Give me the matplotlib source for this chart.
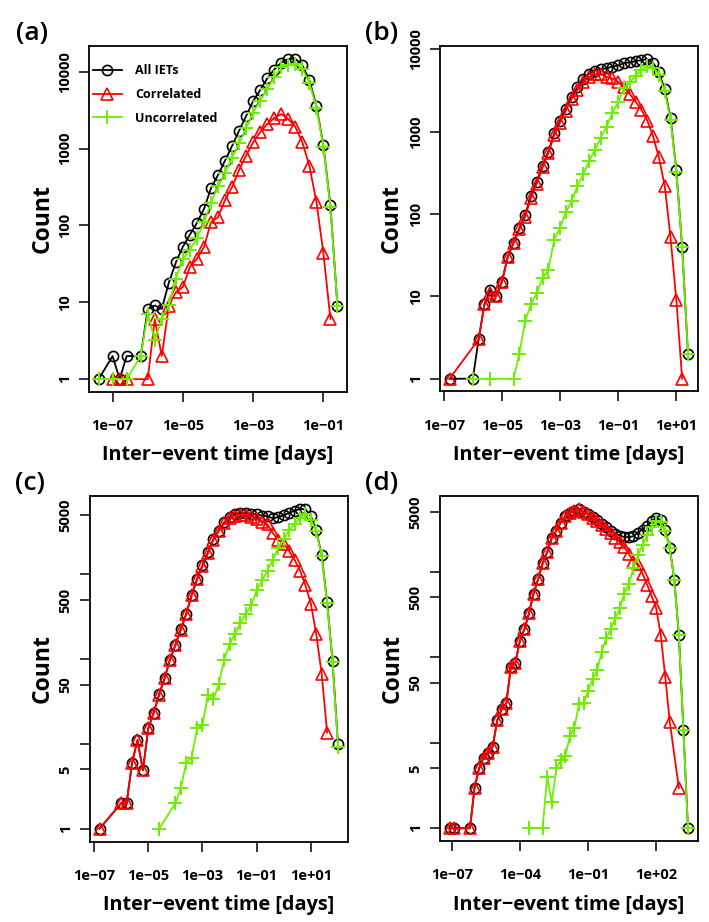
import numpy as np
import matplotlib
matplotlib.use("Agg")
import matplotlib.pyplot as plt
from matplotlib.ticker import FixedLocator, NullLocator, FixedFormatter

plt.rcParams['font.family'] = ['Open Sans', 'DejaVu Sans']

# ---------------- data (x given as log10 of inter-event time in days) ----------------
# Panel (a)
a_x_all = [-7.4, -7.0, -6.8, -6.6, -6.2, -6.0, -5.8, -5.6, -5.4, -5.2, -5.0, -4.8, -4.6, -4.4, -4.2,
           -4.0, -3.8, -3.6, -3.4, -3.2, -3.0, -2.8, -2.6, -2.4, -2.2, -2.0, -1.8, -1.6, -1.4, -1.2,
           -1.0, -0.8, -0.6]
a_all = [1, 2, 1, 2, 2, 8.2, 9.1, 8.2, 18, 33, 53, 76, 108, 164, 305, 455, 698, 1084, 1714, 2655,
         4160, 5780, 8190, 10700, 13100, 14750, 14750, 12200, 7800, 3620, 1100, 182, 9]
a_x_corr = [-7.0, -6.8, -6.6, -6.0, -5.8, -5.6, -5.4, -5.2, -5.0, -4.8, -4.6, -4.4, -4.2, -4.0, -3.8,
            -3.6, -3.4, -3.2, -3.0, -2.8, -2.6, -2.4, -2.2, -2.0, -1.8, -1.6, -1.4, -1.2, -1.0, -0.8]
a_corr = [1, 1, 1, 1, 6.0, 2, 9, 13.6, 15.8, 28.8, 36.9, 52, 110, 128, 215, 315, 528, 811, 1208,
          1630, 2090, 2500, 2820, 2430, 1930, 1210, 601, 205, 43.7, 6.1]
a_x_unc = [-7.4, -7.0, -6.6, -6.2, -6.0, -5.8, -5.6, -5.4, -5.2, -5.0, -4.8, -4.6, -4.4, -4.2, -4.0,
           -3.8, -3.6, -3.4, -3.2, -3.0, -2.8, -2.6, -2.4, -2.2, -2.0, -1.8, -1.6, -1.4, -1.2, -1.0,
           -0.8, -0.6]
a_unc = [1, 1, 1, 2, 7.1, 3.2, 6.1, 9.1, 20.3, 36.9, 48.3, 69.2, 110, 196, 322, 478, 757, 1173, 1840,
         2950, 4190, 5950, 8430, 11400, 12400, 12800, 11000, 7200, 3420, 1060, 176, 9]

# Panel (b)
b_x_all = [-6.8, -6.0, -5.8, -5.6, -5.4, -5.2, -5.0, -4.8, -4.6, -4.4, -4.2, -4.0, -3.8, -3.6, -3.4,
           -3.2, -3.0, -2.8, -2.6, -2.4, -2.2, -2.0, -1.8, -1.6, -1.4, -1.2, -1.0, -0.8, -0.6, -0.4,
           -0.2, 0.0, 0.2, 0.4, 0.6, 0.8, 1.0, 1.2, 1.4]
b_all = [1, 1, 3, 8, 12, 10, 15, 30, 45, 67, 98, 165, 246, 387, 576, 954, 1360, 1915, 2650, 3460,
         4340, 5080, 5550, 5800, 5900, 6200, 6400, 6850, 6950, 7200, 7450, 7600, 6900, 5300, 3300,
         1480, 340, 40, 2]
b_x_corr = [-6.8, -5.8, -5.6, -5.4, -5.2, -5.0, -4.8, -4.6, -4.4, -4.2, -4.0, -3.8, -3.6, -3.4, -3.2,
            -3.0, -2.8, -2.6, -2.4, -2.2, -2.0, -1.8, -1.6, -1.4, -1.2, -1.0, -0.8, -0.6, -0.4, -0.2,
            0.0, 0.2, 0.4, 0.6, 0.8, 1.0, 1.2]
b_corr = [1, 3, 8, 11, 10, 15, 30, 44, 65, 93, 157, 235, 370, 555, 905, 1290, 1810, 2510, 3240, 4040,
          4640, 5010, 5010, 4680, 4440, 4040, 3460, 2870, 2320, 1850, 1370, 881, 488, 222, 52, 9.1, 1]
b_x_unc = [-6.0, -5.4, -4.6, -4.4, -4.2, -4.0, -3.8, -3.6, -3.4, -3.2, -3.0, -2.8, -2.6, -2.4, -2.2,
           -2.0, -1.8, -1.6, -1.4, -1.2, -1.0, -0.8, -0.6, -0.4, -0.2, 0.0, 0.2, 0.4, 0.6, 0.8, 1.0,
           1.2, 1.4]
b_unc = [1, 1, 1, 2, 5, 8, 11, 16.7, 21, 49, 68, 105, 143, 220, 304, 444, 600, 850, 1150, 1700, 2300,
         3400, 4000, 4800, 5600, 6300, 6000, 4900, 3100, 1400, 328, 40, 2]

# Panel (c)
c_x_all = [-6.8, -6.0, -5.8, -5.6, -5.4, -5.2, -5.0, -4.8, -4.6, -4.4, -4.2, -4.0, -3.8, -3.6, -3.4,
           -3.2, -3.0, -2.8, -2.6, -2.4, -2.2, -2.0, -1.8, -1.6, -1.4, -1.2, -1.0, -0.8, -0.6, -0.4,
           -0.2, 0.0, 0.2, 0.4, 0.6, 0.8, 1.0, 1.2, 1.4, 1.6, 1.8, 2.0]
c_all = [1, 2, 2, 6, 11.1, 4.9, 15.3, 23.4, 38.7, 59.3, 99, 148, 226, 344, 573, 888, 1277, 1818, 2594,
         3290, 4120, 4750, 5200, 5300, 5300, 5200, 5100, 4950, 4850, 4600, 4750, 5000, 5350, 5650,
         5950, 5850, 4900, 3300, 1680, 473, 95, 10]
c_x_corr = [-6.8, -6.0, -5.8, -5.6, -5.4, -5.2, -5.0, -4.8, -4.6, -4.4, -4.2, -4.0, -3.8, -3.6, -3.4,
            -3.2, -3.0, -2.8, -2.6, -2.4, -2.2, -2.0, -1.8, -1.6, -1.4, -1.2, -1.0, -0.8, -0.6, -0.4,
            -0.2, 0.0, 0.2, 0.4, 0.6, 0.8, 1.0, 1.2, 1.4, 1.6]
c_corr = [1, 2, 2, 6, 11.1, 4.9, 15.3, 23.4, 37.7, 59.3, 99, 146, 223, 338, 566, 873, 1260, 1780, 2560,
          3240, 4020, 4600, 4950, 5050, 5050, 4800, 4500, 4200, 3900, 3060, 2560, 2300, 1880, 1490,
          1110, 743, 452, 197, 66.6, 13.6]
c_x_unc = [-4.6, -4.0, -3.8, -3.6, -3.4, -3.2, -3.0, -2.8, -2.6, -2.4, -2.2, -2.0, -1.8, -1.6, -1.4,
           -1.2, -1.0, -0.8, -0.6, -0.4, -0.2, 0.0, 0.2, 0.4, 0.6, 0.8, 1.0, 1.2, 1.4, 1.6, 1.8, 2.0]
c_unc = [1, 2, 3, 6, 6.9, 15.3, 16.7, 37.7, 33.5, 50.8, 99, 150, 200, 268, 345, 432, 649, 849, 1110,
         1490, 2060, 2630, 3300, 3940, 4640, 5180, 4400, 3240, 1630, 460, 93, 9.3]

# Panel (d)
d_x_all = [-7.1, -6.9, -6.2, -6.0, -5.8, -5.6, -5.4, -5.2, -5.0, -4.8, -4.6, -4.4, -4.2, -4.0, -3.8,
           -3.6, -3.4, -3.2, -3.0, -2.8, -2.6, -2.4, -2.2, -2.0, -1.8, -1.6, -1.4, -1.2, -1.0, -0.8,
           -0.6, -0.4, -0.2, 0.0, 0.2, 0.4, 0.6, 0.8, 1.0, 1.2, 1.4, 1.6, 1.8, 2.0, 2.2, 2.4, 2.6,
           2.8, 3.0, 3.2, 3.4]
d_all = [1, 1, 1, 2.95, 5.0, 6.7, 7.6, 9.0, 18.2, 24.8, 28.9, 76.6, 86, 156, 213, 327, 550, 813,
         1250, 1690, 2450, 3000, 3740, 4470, 4880, 5100, 5350, 4990, 4700, 4320, 3970, 3590, 3350,
         3020, 2780, 2640, 2530, 2520, 2600, 2850, 3100, 3450, 3900, 4250, 4000, 3050, 1900, 795,
         180, 14, 1]
d_x_corr = [-7.1, -6.9, -6.2, -6.0, -5.8, -5.6, -5.4, -5.2, -5.0, -4.8, -4.6, -4.4, -4.2, -4.0, -3.8,
            -3.6, -3.4, -3.2, -3.0, -2.8, -2.6, -2.4, -2.2, -2.0, -1.8, -1.6, -1.4, -1.2, -1.0, -0.8,
            -0.6, -0.4, -0.2, 0.0, 0.2, 0.4, 0.6, 0.8, 1.0, 1.2, 1.4, 1.6, 1.8, 2.0, 2.2, 2.4, 2.6,
            3.0]
d_corr = [1, 1, 1, 2.95, 5.0, 6.7, 7.6, 9.0, 18.2, 24.8, 28.9, 76.6, 86, 156, 213, 326, 550, 813,
          1250, 1680, 2440, 2990, 3730, 4460, 4870, 5090, 5320, 4960, 4660, 4260, 3900, 3470, 3180,
          2810, 2440, 2190, 1920, 1610, 1290, 1230, 944, 704, 521, 372, 183, 58.7, 17.4, 2.95]
d_x_unc = [-3.6, -3.0, -2.8, -2.6, -2.4, -2.2, -2.0, -1.8, -1.6, -1.4, -1.2, -1.0, -0.8, -0.6, -0.4,
           -0.2, 0.0, 0.2, 0.4, 0.6, 0.8, 1.0, 1.2, 1.4, 1.6, 1.8, 2.0, 2.2, 2.4, 2.6, 2.8, 3.0, 3.2,
           3.4]
d_unc = [1, 1, 4, 2, 5, 6.2, 7, 12, 15, 28, 29, 40, 55, 70, 115, 167, 212, 285, 372, 554, 724, 1100,
         1550, 2050, 2650, 3350, 3850, 3750, 2950, 1870, 791, 180, 14, 1]

# axis ticks
ab_xticks = {'a': [1e-7, 1e-5, 1e-3, 1e-1], 'b': [1e-7, 1e-5, 1e-3, 1e-1, 1e1],
             'c': [1e-7, 1e-5, 1e-3, 1e-1, 1e1], 'd': [1e-7, 1e-4, 1e-1, 1e2]}
ab_xlabels = {'a': ['1e\u221207', '1e\u221205', '1e\u221203', '1e\u221201'],
              'b': ['1e\u221207', '1e\u221205', '1e\u221203', '1e\u221201', '1e+01'],
              'c': ['1e\u221207', '1e\u221205', '1e\u221203', '1e\u221201', '1e+01'],
              'd': ['1e\u221207', '1e\u221204', '1e\u221201', '1e+02']}
y_ticks_ab = [1, 10, 100, 1000, 10000]
y_labels_ab = ['1', '10', '100', '1000', '10000']
y_ticks_cd = [1, 5, 10, 50, 100, 500, 1000, 5000]
y_labels_cd = ['1', '5', '', '50', '', '500', '', '5000']

# ---------------- figure ----------------
W, H = 709, 922
fig = plt.figure(figsize=(W / 100, H / 100), dpi=100)

BLACK = 'black'
RED = '#FF0000'
GREEN = '#6FEE00'
LW = 1.3


def add_ax(l, t, r, b):
    return fig.add_axes([l / W, 1 - b / H, (r - l) / W, (b - t) / H])


def draw(ax, xa, ya, xc, yc, xu, yu, key, yt, yl, legend=False):
    ax.plot(10.0 ** np.array(xa), ya, color=BLACK, lw=LW, marker='o', ms=7.3,
            mfc='none', mew=1.2, label='All IETs')
    ax.plot(10.0 ** np.array(xc), yc, color=RED, lw=LW, marker='^', ms=8.5,
            mfc='none', mew=1.2, label='Correlated')
    ax.plot(10.0 ** np.array(xu), yu, color=GREEN, lw=LW, marker='+', ms=10,
            mew=1.4, label='Uncorrelated')
    ax.set_xscale('log')
    ax.set_yscale('log')
    ax.margins(x=0.04, y=0.04)
    ax.xaxis.set_major_locator(FixedLocator(ab_xticks[key]))
    ax.xaxis.set_major_formatter(FixedFormatter(ab_xlabels[key]))
    ax.xaxis.set_minor_locator(NullLocator())
    ax.yaxis.set_major_locator(FixedLocator(yt))
    ax.yaxis.set_major_formatter(FixedFormatter(yl))
    ax.yaxis.set_minor_locator(NullLocator())
    ax.tick_params(direction='out', length=7.5, width=1.1, labelsize=10.5)
    ax.tick_params(axis='x', pad=12)
    ax.tick_params(axis='y', pad=5)
    for lab in ax.get_xticklabels() + ax.get_yticklabels():
        lab.set_fontweight('bold')
    for lab in ax.get_yticklabels():
        lab.set_rotation(90)
        lab.set_va('center')
    for s in ax.spines.values():
        s.set_linewidth(1.3)
    if legend:
        ax.legend(loc='upper left', bbox_to_anchor=(-0.004, 0.962), borderaxespad=0,
                  frameon=False, prop={'weight': 'bold', 'size': 9},
                  handlelength=2.3, labelspacing=0.86, handletextpad=1.1)


axA = add_ax(89, 46, 347, 392)
draw(axA, a_x_all, a_all, a_x_corr, a_corr, a_x_unc, a_unc, 'a', y_ticks_ab, y_labels_ab, legend=True)
axB = add_ax(440, 46.5, 697.5, 391.5)
draw(axB, b_x_all, b_all, b_x_corr, b_corr, b_x_unc, b_unc, 'b', y_ticks_ab, y_labels_ab)
axC = add_ax(90, 496, 347.5, 841.5)
draw(axC, c_x_all, c_all, c_x_corr, c_corr, c_x_unc, c_unc, 'c', y_ticks_cd, y_labels_cd)
axD = add_ax(440, 496.5, 697.5, 841)
draw(axD, d_x_all, d_all, d_x_corr, d_corr, d_x_unc, d_unc, 'd', y_ticks_cd, y_labels_cd)


def ftext(x, y, s, **kw):
    fig.text(x / W, 1 - y / H, s, ha='center', va='center', **kw)


for (px, py), s in zip([(32, 33), (382, 33), (30, 483), (382, 483)], ['(a)', '(b)', '(c)', '(d)']):
    ftext(px, py, s, fontsize=19, fontweight='semibold')
for (px, py) in [(218, 455), (569, 455), (219, 905), (569, 905)]:
    ftext(px, py, 'Inter\u2212event time [days]', fontsize=14.3, fontweight='bold')
for (px, py) in [(43, 219), (392, 219), (43, 669), (393, 669)]:
    ftext(px, py, 'Count', fontsize=16.5, fontweight='bold', rotation=90)

fig.savefig('out.png', dpi=100)
